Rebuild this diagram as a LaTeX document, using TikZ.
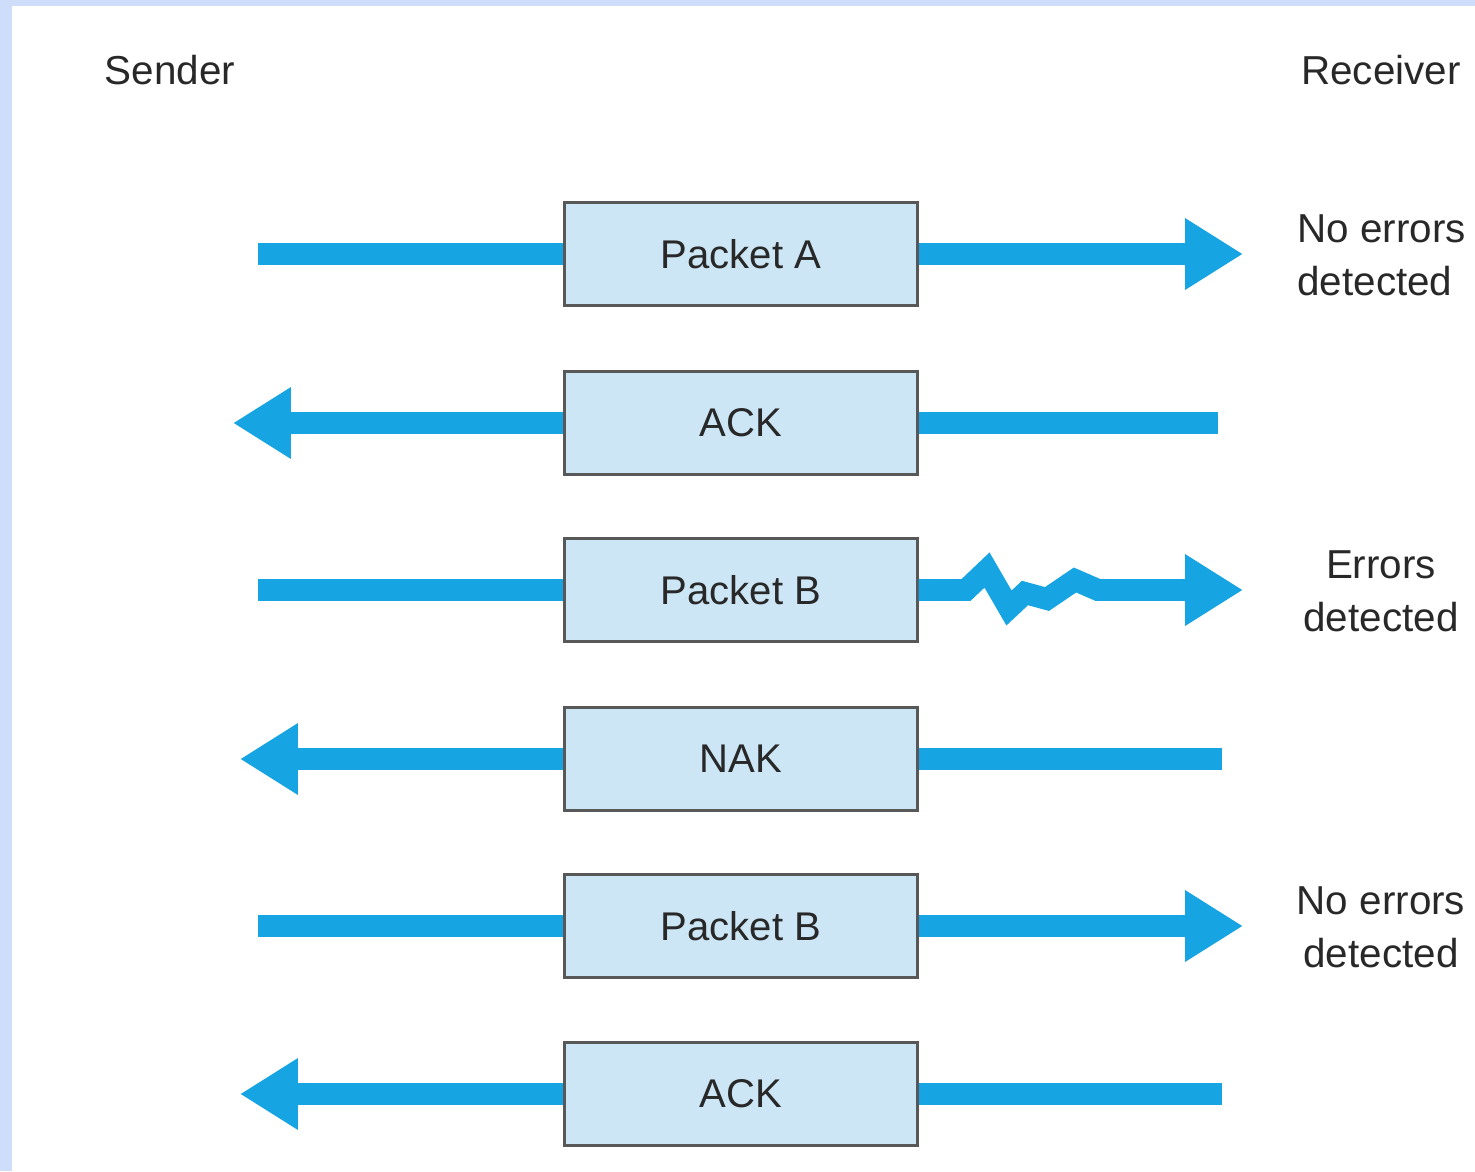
\documentclass[tikz,border=0pt]{standalone}
\usepackage{fontspec}
\setmainfont{Liberation Sans}
\usetikzlibrary{arrows.meta}
\definecolor{framebg}{RGB}{206,222,250}
\definecolor{flow}{RGB}{22,164,226}
\definecolor{boxfill}{RGB}{204,230,246}
\definecolor{boxline}{RGB}{88,88,88}
\definecolor{txt}{RGB}{40,40,40}
\begin{document}
\begin{tikzpicture}[x=0.02cm,y=-0.02cm,
  packet/.style={draw=boxline,line width=1.2pt,fill=boxfill,minimum width=7.06cm,minimum height=2.06cm,
    inner sep=0pt,font=\fontsize{22.8}{26}\selectfont,text=txt},
  label/.style={font=\fontsize{23}{30}\selectfont,text=txt,inner sep=0pt},
  wire/.style={draw=flow,line width=12.5pt,line join=miter},
  flowto/.style={wire,-{Triangle[length=33pt,width=38.5pt]}}]
% page frame
\fill[framebg] (0,0) rectangle (1475,1171);
\fill[white] (12,6) rectangle (1475,1171);
\useasboundingbox (0,0) rectangle (1475,1171);

\node[label] (snd) at (170,70) {Sender};
\node[label] (rcv) at (1381,70) {Receiver};

% packets and replies
\node[packet] (pA)  at (741,254)  {Packet A};
\node[packet] (ack1) at (741,423) {ACK};
\node[packet] (pB)  at (741,590)  {Packet B};
\node[packet] (nak) at (741,759)  {NAK};
\node[packet] (pB2) at (741,926)  {Packet B};
\node[packet] (ack2) at (741,1094) {ACK};

% free ends of the flows
\coordinate (pAs) at (258,254);  \coordinate (pAe) at (1243,254);
\coordinate (k1s) at (1218,423); \coordinate (k1e) at (233,423);
\coordinate (pBs) at (258,590);  \coordinate (pBe) at (1243,590);
\coordinate (nks) at (1222,759); \coordinate (nke) at (240,759);
\coordinate (p2s) at (258,926);  \coordinate (p2e) at (1243,926);
\coordinate (k2s) at (1222,1094);\coordinate (k2e) at (240,1094);

% Packet A
\draw[wire] (pAs) -- (pA.west);
\draw[flowto] (pA.east) -- (pAe);
% ACK
\draw[wire] (k1s) -- (ack1.east);
\draw[flowto] (ack1.west) -- (k1e);
% Packet B, corrupted on the way
\draw[flowto] (pB.east) -- (966,590) -- (987,570) -- (1009,608) -- (1025,593)
  -- (1047,599) -- (1075,580) -- (1098,590) -- (pBe);
\draw[wire] (pBs) -- (pB.west);
% NAK
\draw[wire] (nks) -- (nak.east);
\draw[flowto] (nak.west) -- (nke);
% Packet B resent
\draw[wire] (p2s) -- (pB2.west);
\draw[flowto] (pB2.east) -- (p2e);
% ACK
\draw[wire] (k2s) -- (ack2.east);
\draw[flowto] (ack2.west) -- (k2e);

% receiver notes
\node[label,align=left,anchor=west] (r1) at (1297,255) {No errors\\detected};
\node[label,align=center] (r2) at (1381,591) {Errors\\detected};
\node[label,align=center] (r3) at (1381,927) {No errors\\detected};
\end{tikzpicture}
\end{document}
